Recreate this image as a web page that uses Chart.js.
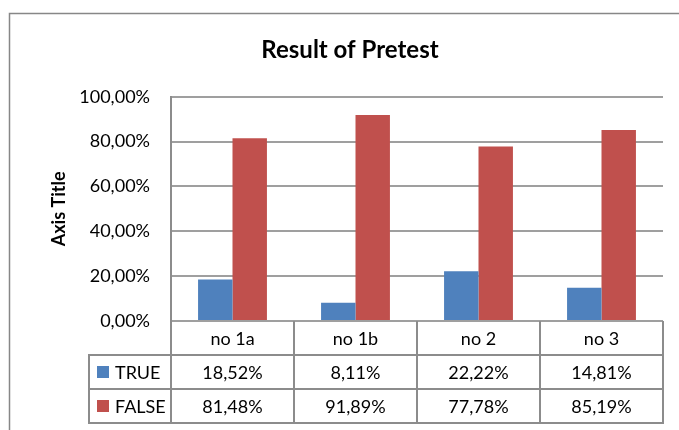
<!DOCTYPE html>
<html lang="en">
<head>
    <meta charset="UTF-8">
    <title>Result of Pretest</title>
    <script src="https://cdn.jsdelivr.net/npm/chart.js"></script>
    <style>
        html, body { margin: 0; padding: 0; background: #fff; }
        .wrap { width: 679px; height: 430px; position: relative; }
    </style>
</head>
<body>
    <div class="wrap">
        <canvas id="pretestChart" width="679" height="430"></canvas>
    </div>
    <script>
        // Data
        const categories = ['no 1a', 'no 1b', 'no 2', 'no 3'];
        const seriesNames = ['TRUE', 'FALSE'];
        const trueValues = [18.52, 8.11, 22.22, 14.81];
        const falseValues = [81.48, 91.89, 77.78, 85.19];
        const yTicks = [0, 20, 40, 60, 80, 100];

        const colors = ['#4f81bd', '#c0504d'];
        const lineColor = '#8c8c8c';
        const fontFamily = 'Lato, "Open Sans", sans-serif';

        const fmtPct = v => v.toFixed(2).replace('.', ',') + '%';

        // white background + outer frame
        const frame = {
            id: 'frame',
            beforeDraw(chart) {
                const ctx = chart.ctx;
                ctx.save();
                ctx.fillStyle = '#fff';
                ctx.fillRect(0, 0, chart.width, chart.height);
                ctx.strokeStyle = '#878787';
                ctx.lineWidth = 1.5;
                ctx.strokeRect(9.5, 13.5, 720, 500);
                ctx.restore();
            }
        };

        // Excel-like data table under the plot
        const dataTable = {
            id: 'dataTable',
            afterDraw(chart) {
                const { ctx, chartArea: a, scales: { x } } = chart;
                const rowH = 34;
                const top = a.bottom;
                const bottom = top + rowH * 3;
                const legendLeft = 89;
                const colW = (a.right - a.left) / categories.length;
                const rows = [trueValues, falseValues];

                ctx.save();
                ctx.strokeStyle = lineColor;
                ctx.lineWidth = 2;
                ctx.beginPath();
                // horizontal lines
                for (let r = 1; r <= 3; r++) {
                    ctx.moveTo(legendLeft - 1, top + rowH * r);
                    ctx.lineTo(a.right + 1, top + rowH * r);
                }
                // vertical lines
                ctx.moveTo(legendLeft, top + rowH);
                ctx.lineTo(legendLeft, bottom);
                ctx.moveTo(a.left, top);
                ctx.lineTo(a.left, bottom);
                categories.forEach((c, i) => {
                    const xr = x.getPixelForValue(i) + colW / 2;
                    ctx.moveTo(xr, top);
                    ctx.lineTo(xr, bottom);
                });
                ctx.stroke();

                ctx.fillStyle = '#000';
                ctx.font = '18px ' + fontFamily;
                ctx.textAlign = 'center';
                ctx.textBaseline = 'middle';
                categories.forEach((c, i) => {
                    const cx = x.getPixelForValue(i);
                    ctx.fillText(c, cx, top + rowH / 2 + 1);
                    rows.forEach((vals, r) => {
                        ctx.fillText(fmtPct(vals[i]), cx, top + rowH * (r + 1.5) + 1);
                    });
                });

                // legend keys
                ctx.textAlign = 'left';
                seriesNames.forEach((name, r) => {
                    const cy = top + rowH * (r + 1.5);
                    ctx.fillStyle = colors[r];
                    ctx.fillRect(legendLeft + 8, cy - 6, 12, 12);
                    ctx.fillStyle = '#000';
                    ctx.fillText(name, legendLeft + 26, cy + 1);
                });
                ctx.restore();
            }
        };

        const ctx = document.getElementById('pretestChart').getContext('2d');
        const chart = new Chart(ctx, {
            type: 'bar',
            data: {
                labels: categories,
                datasets: [
                    { label: seriesNames[0], data: trueValues, backgroundColor: colors[0] },
                    { label: seriesNames[1], data: falseValues, backgroundColor: colors[1] }
                ]
            },
            options: {
                responsive: false,
                animation: false,
                layout: { padding: { top: 0, left: 37, right: 16, bottom: 109 } },
                datasets: {
                    bar: { categoryPercentage: 0.56, barPercentage: 1.0 }
                },
                plugins: {
                    legend: { display: false },
                    tooltip: { enabled: false },
                    title: {
                        display: true,
                        text: 'Result of Pretest',
                        color: '#000',
                        font: { family: fontFamily, size: 24, weight: 'bold' },
                        padding: { top: 36, bottom: 32 }
                    }
                },
                scales: {
                    x: {
                        display: false
                    },
                    y: {
                        min: 0,
                        max: 100,
                        afterFit: s => { s.width = 134; },
                        afterBuildTicks: s => { s.ticks = yTicks.map(v => ({ value: v })); },
                        border: { display: true, color: lineColor, width: 2 },
                        grid: { color: '#9f9f9f', lineWidth: 2, drawTicks: false },
                        ticks: {
                            padding: 21,
                            color: '#000',
                            font: { family: fontFamily, size: 18 },
                            callback: v => fmtPct(v)
                        },
                        title: {
                            display: true,
                            text: 'Axis Title',
                            color: '#000',
                            font: { family: fontFamily, size: 18, weight: 'bold' },
                            padding: { top: 11, bottom: 0 }
                        }
                    }
                }
            },
            plugins: [frame, dataTable]
        });
    </script>
</body>
</html>
